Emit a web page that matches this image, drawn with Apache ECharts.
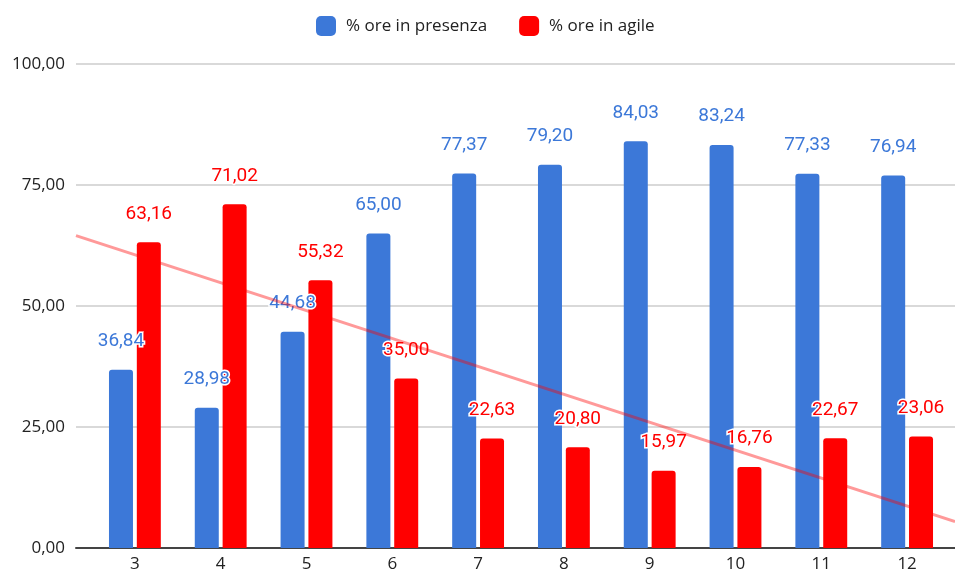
<!DOCTYPE html>
<html>
<head>
<meta charset="utf-8">
<script src="https://cdn.jsdelivr.net/npm/echarts@6/dist/echarts.min.js"></script>
<style>html,body{margin:0;padding:0;background:#fff}#c{width:955px;height:574px}</style>
</head>
<body>
<div id="c"></div>
<script>
const categories = ['3','4','5','6','7','8','9','10','11','12'];
const presenza = [36.84, 28.98, 44.68, 65.00, 77.37, 79.20, 84.03, 83.24, 77.33, 76.94];
const agile = [63.16, 71.02, 55.32, 35.00, 22.63, 20.80, 15.97, 16.76, 22.67, 23.06];
const yTicks = [0, 25, 50, 75, 100];

const fmt = v => Number(v).toFixed(2).replace('.', ',');

// linear trendline of the agile series (least squares over category numbers)
const xs = categories.map(Number);
const n = xs.length;
const mx = xs.reduce((a,b)=>a+b,0)/n;
const my = agile.reduce((a,b)=>a+b,0)/n;
let sxy = 0, sxx = 0;
for (let i=0;i<n;i++){ sxy += (xs[i]-mx)*(agile[i]-my); sxx += (xs[i]-mx)*(xs[i]-mx); }
const slope = sxy/sxx, icpt = my - slope*mx;
const xMin = 2.312, xMax = 12.56;
const trend = [[xMin, icpt+slope*xMin], [xMax, icpt+slope*xMax]];

const chart = echarts.init(document.getElementById('c'));
const labelCommon = {
  show: true, position: 'top', distance: 19,
  fontFamily: 'Roboto', fontSize: 19,
  textBorderColor: '#fff', textBorderWidth: 3,
  formatter: p => fmt(p.value)
};
chart.setOption({
  animation: false,
  textStyle: { fontFamily: 'Open Sans' },
  legend: {
    top: 11, left: 311, itemWidth: 20, itemHeight: 20, itemGap: 32,
    icon: 'roundRect',
    textStyle: { fontSize: 17, color: '#222', padding: [0,0,0,5], fontFamily: 'Open Sans' },
    data: ['% ore in presenza', '% ore in agile']
  },
  grid: [
    { left: 92, right: 5, top: 64, bottom: 26 },
    { left: 76, right: 0, top: 64, bottom: 26 }
  ],
  xAxis: [
    { type: 'category', gridIndex: 0, data: categories,
      axisLine: { show: false }, axisTick: { show: false },
      axisLabel: { color: '#222', fontSize: 17, margin: 8, fontFamily: 'Open Sans' } },
    { type: 'value', gridIndex: 1, min: xMin, max: xMax,
      axisLine: { show: true, onZero: false, lineStyle: { color: '#444', width: 2 } },
      axisTick: { show: false }, axisLabel: { show: false }, splitLine: { show: false } }
  ],
  yAxis: [
    { type: 'value', gridIndex: 0, min: 0, max: 100, interval: 25, show: false },
    { type: 'value', gridIndex: 1, min: 0, max: 100, interval: 25,
      axisLine: { show: false }, axisTick: { show: false },
      axisLabel: { color: '#222', fontSize: 17, margin: 11, formatter: v => fmt(v),
        fontFamily: 'Open Sans', customValues: yTicks },
      splitLine: { lineStyle: { color: '#ccc', width: 1.5 } } }
  ],
  series: [
    { name: '% ore in presenza', type: 'bar', xAxisIndex: 0, yAxisIndex: 0,
      data: presenza, barWidth: 24, barGap: '16%', z: 2,
      itemStyle: { color: '#3c78d8', borderRadius: [3,3,0,0] },
      label: Object.assign({}, labelCommon, { color: '#3c78d8' }) },
    { name: '% ore in agile', type: 'bar', xAxisIndex: 0, yAxisIndex: 0,
      data: agile, barWidth: 24, barGap: '16%', z: 2,
      itemStyle: { color: '#ff0000', borderRadius: [3,3,0,0] },
      label: Object.assign({}, labelCommon, { color: '#ff0000' }) },
    { name: 'trend', type: 'line', xAxisIndex: 1, yAxisIndex: 1, data: trend,
      showSymbol: false, silent: true, z: 3,
      lineStyle: { color: 'rgba(255,0,0,0.4)', width: 3 } }
  ]
});
</script>
</body>
</html>
